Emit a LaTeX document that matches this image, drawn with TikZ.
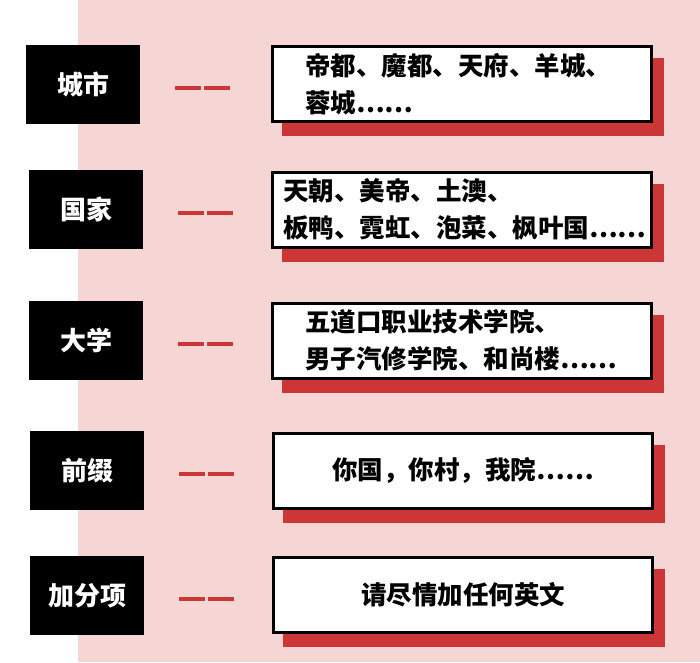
\documentclass[tikz,border=0pt]{standalone}
\usepackage{fontspec}
\usetikzlibrary{backgrounds}
\newfontfamily\cjk{Noto Sans CJK SC}
\definecolor{bgpink}{RGB}{246,213,213}
\definecolor{shadowred}{RGB}{204,54,54}
\tikzset{
  tag/.style={fill=black, text=white, minimum width=114pt, minimum height=79pt,
    inner sep=0pt, font=\cjk\bfseries\fontsize{26}{26}\selectfont},
  card/.style={draw=black, line width=3pt, fill=white, minimum width=379pt,
    minimum height=75pt, inner sep=0pt, font=\cjk\bfseries\fontsize{25.5}{37}\selectfont},
  dashline/.style={draw=shadowred, line width=4pt, dash pattern=on 26pt off 3pt},
}
\begin{document}
\begin{tikzpicture}[x=1pt, y=-1pt]
	\useasboundingbox (0,0) rectangle (700,662);
	
	% Etiquetas negras de la izquierda
	\foreach \i/\x/\y/\t in {1/83/84.5/城市, 2/86/209.5/国家, 3/86/340.5/大学, 4/87/470.5/前缀, 5/87/595.5/加分项} {
		\node[tag] (t\i) at (\x,\y) {\t};
	}
	
	\node[card, align=left, inner xsep=32.5pt, text width=314pt] (c1) at (462,84) {帝都、魔都、天府、羊城、\\蓉城……};
	\node[card, align=left, inner xsep=10.5pt, text width=358pt] (c2) at (462,209.5) {天朝、美帝、土澳、\\板鸭、霓虹、泡菜、枫叶国……};
	\node[card, align=left, inner xsep=32.5pt, text width=314pt] (c3) at (462,340.5) {五道口职业技术学院、\\男子汽修学院、和尚楼……};
	\node[card] (c4) at (463,470.5) {你国，你村，我院……};
	\node[card] (c5) at (463,595) {请尽情加任何英文};
	
	\foreach \i in {1,...,5} {
		\draw[dashline] ([shift={(35,3)}]t\i.east) -- ++(55,0);
	}
	
	\begin{scope}[on background layer]
		\fill[white] (0,0) rectangle (700,662);
		\fill[bgpink] (78,0) rectangle (700,662);
		% Sombras rojas desplazadas
		\foreach \i in {1,...,5} {
			\fill[shadowred] ([shift={(11,13)}]c\i.south west) rectangle ([shift={(11,13)}]c\i.north east);
		}
	\end{scope}
\end{tikzpicture}
\end{document}
